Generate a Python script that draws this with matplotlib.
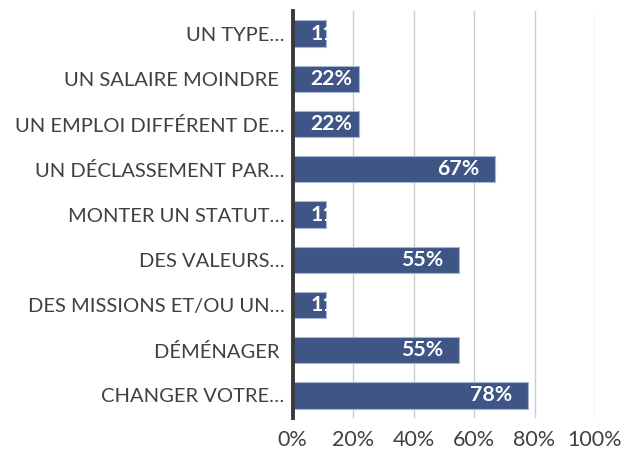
import numpy as np
import matplotlib.pyplot as plt

categories = ["UN TYPE…", "UN SALAIRE MOINDRE ", "UN EMPLOI DIFFÉRENT DE…", "UN DÉCLASSEMENT PAR…",
              "MONTER UN STATUT…", "DES VALEURS…", "DES MISSIONS ET/OU UN…", "DÉMÉNAGER ",
              "CHANGER VOTRE…"]
values = [11, 22, 22, 67, 11, 55, 11, 55, 78]
xticks = [0, 20, 40, 60, 80, 100]
xtick_labels = ["0%", "20%", "40%", "60%", "80%", "100%"]

plt.rcParams['font.family'] = ['Lato', 'DejaVu Sans']

fig = plt.figure(figsize=(6.35, 4.59), dpi=100)
ax = fig.add_axes([292.7/635, 1-418/459, (595-292.7)/635, (418-11)/459])

y = np.arange(len(categories))
bars = ax.barh(y, values, height=0.58, color='#3f5585', edgecolor='#a7b6d3', linewidth=0.8, zorder=3)
ax.set_ylim(len(categories)-0.5, -0.5)
ax.set_xlim(0, 100)
ax.set_xticks(xticks)
ax.set_xticklabels(xtick_labels, fontsize=15.5, color='#404040')
ax.set_yticks(y)
ax.set_yticklabels(categories, fontsize=14.5, color='#404040')
ax.tick_params(length=0, pad=6)
ax.tick_params(axis='x', pad=9)
ax.grid(axis='x', color='#cccccc', linewidth=1, zorder=0)
for s in ['top', 'right', 'bottom']:
    ax.spines[s].set_visible(False)
ax.spines['left'].set_color('#3a3a3a')
ax.spines['left'].set_linewidth(2.8)
ax.spines['left'].set_zorder(5)

# labels inside end, clipped to the bar when they don't fit
pxper = (595-292.7)/100
fig.canvas.draw()
r = fig.canvas.get_renderer()
for b, v in zip(bars, values):
    t = ax.text(v - 16/pxper, b.get_y() + b.get_height()/2, f"{v}%", ha='right', va='center',
                color='white', fontsize=15.3, fontweight='bold', zorder=4)
    ext = t.get_window_extent(r)
    left = ax.transData.inverted().transform((ext.x0, 0))[0]
    if left < 18/pxper:
        t.set_x(18/pxper)
        t.set_ha('left')
    t.set_clip_path(b)

fig.savefig("out.png", dpi=100)
